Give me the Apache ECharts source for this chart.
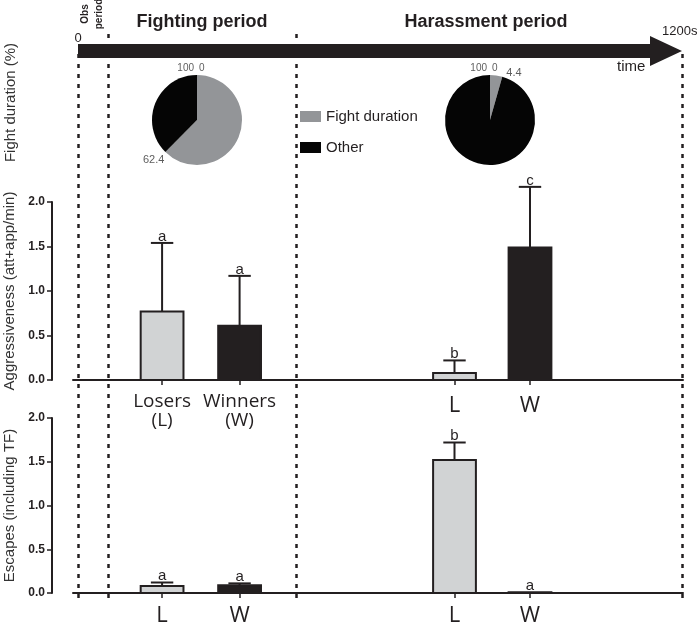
<!DOCTYPE html>
<html>
<head>
<meta charset="utf-8">
<script src="https://cdn.jsdelivr.net/npm/echarts@6/dist/echarts.min.js"></script>
<style>
html, body { margin: 0; padding: 0; background: #fff; }
#main { width: 697px; height: 629px; }
</style>
</head>
<body>
<div id="main"></div>
<script>
// ---- data ----
var periodEdges = [0, 60, 433, 1200];          // s : start, end obs, end fighting, end
var barPos = [167, 321, 748, 898];             // centre of each bar on the time axis (s)
var rowLabelsTop = ['Losers\n(L)', 'Winners\n(W)', 'L', 'W'];
var rowLabelsBottom = ['L', 'W', 'L', 'W'];
var aggrMean = [0.77, 0.61, 0.08, 1.49];
var aggrErr = [0.77, 0.56, 0.14, 0.68];
var aggrLetters = ['a', 'a', 'b', 'c'];
var escMean = [0.08, 0.09, 1.52, 0.01];
var escErr = [0.04, 0.02, 0.20, 0];
var escLetters = ['a', 'a', 'b', 'a'];
var fightPct = [62.4, 4.4];                    // % of time fighting, fighting / harassment

var INK = '#231f20';
var GREY_BAR = '#d1d3d4';
var GREY_PIE = '#939598';
var barWidth = 89;   // in seconds of the time axis

var myChart = echarts.init(document.getElementById('main'));

function barItems(mean, err) {
    var out = [];
    for (var i = 0; i < mean.length; i++) {
        out.push([barPos[i], mean[i], err[i], i % 2]);
    }
    return out;
}

// bars + error bars + letters
function makeRender(letters) {
    return function (params, api) {
        var x = api.value(0), v = api.value(1), e = api.value(2);
        var base = api.coord([x, 0]);
        var top = api.coord([x, v]);
        var errTop = api.coord([x, v + e]);
        var w = api.size([barWidth, 0])[0];
        var cap = w / 2;
        var children = [{
            type: 'rect',
            shape: {x: base[0] - w / 2 + 1, y: top[1], width: w - 2, height: base[1] - top[1]},
            style: {fill: api.value(3) === 0 ? GREY_BAR : INK, stroke: INK, lineWidth: 2}
        }];
        if (e > 0) {
            children.push({
                type: 'line',
                shape: {x1: base[0], y1: top[1], x2: base[0], y2: errTop[1]},
                style: {stroke: INK, lineWidth: 2}
            });
            children.push({
                type: 'line',
                shape: {x1: base[0] - cap / 2, y1: errTop[1], x2: base[0] + cap / 2, y2: errTop[1]},
                style: {stroke: INK, lineWidth: 2}
            });
        }
        children.push({
            type: 'text',
            x: base[0], y: errTop[1] + 1,
            style: {
                text: letters[params.dataIndex], fill: INK,
                fontFamily: 'Liberation Sans', fontSize: 15,
                align: 'center', verticalAlign: 'bottom', textAlign: 'center', textVerticalAlign: 'bottom'
            }
        });
        return {type: 'group', children: children};
    };
}

// two-line names use the small style, single letters the big one
function labelFor(list) {
    return function (val) {
        var i = barPos.indexOf(val);
        if (i < 0) return '';
        var parts = list[i].split('\n');
        if (parts.length > 1) {
            return parts.map(function (p) { return '{n|' + p + '}'; }).join('\n');
        }
        return '{b|' + parts[0] + '}';
    };
}

function rowXAxis(grid, labels, margin) {
    return {
        gridIndex: grid, type: 'value', min: -10, max: 1202,
        splitLine: {show: false},
        axisLine: {show: true, onZero: false, lineStyle: {color: INK, width: 2}},
        axisTick: {show: true, customValues: barPos, length: 5, lineStyle: {color: INK, width: 1.5}},
        axisLabel: {
            customValues: barPos, formatter: labelFor(labels), margin: margin, color: INK,
            rich: {
                n: {fontFamily: 'Open Sans', fontSize: 19, lineHeight: 19, color: INK},
                b: {fontFamily: 'Open Sans', fontSize: 22, lineHeight: 24, padding: [3, 0, 0, 0], color: INK}
            }
        }
    };
}

function rowYAxis(grid, name) {
    return {
        gridIndex: grid, type: 'value', min: 0, max: 2, interval: 0.5, offset: 21,
        name: name, nameLocation: 'middle', nameGap: 34,
        nameTextStyle: {color: '#333', fontFamily: 'Liberation Sans', fontSize: 15},
        splitLine: {show: false},
        axisLine: {show: true, onZero: false, lineStyle: {color: INK, width: 2}},
        axisTick: {show: true, length: 5, lineStyle: {color: INK, width: 1.5}},
        axisLabel: {
            color: INK, fontFamily: 'Liberation Sans', fontWeight: 'bold', fontSize: 12, margin: 7,
            formatter: function (v) { return v.toFixed(1); }
        }
    };
}

var dotted = {color: INK, width: 2.5, type: [4, 6]};

function pieData(p) {
    return [
        {name: 'Fight duration', value: p, itemStyle: {color: GREY_PIE}},
        {name: 'Other', value: 100 - p, itemStyle: {color: '#050505'}}
    ];
}

var smallLbl = {color: '#333', fontFamily: 'Liberation Sans', fontSize: 10};

function pieMarks(p, pos) {
    return [
        {value: [1, 0], name: '100', label: {position: 'top', distance: 2, align: 'right', offset: [-3, 0]}},
        {value: [1, 0], name: '0', label: {position: 'top', distance: 2, align: 'left', offset: [2, 0]}},
        {value: [1, p], name: String(p), label: pos}
    ];
}

var titleFont = {fontFamily: 'Liberation Sans', fontWeight: 'bold', fontSize: 18, fill: INK};

myChart.setOption({
    animation: false,
    grid: [
        {left: 78, right: 15, top: 33, bottom: 31, outerBoundsMode: 'none'},   // 0 time axis, long dotted lines
        {left: 78, right: 15, top: 51, bottom: 31, outerBoundsMode: 'none'},   // 1 arrow
        {left: 52, right: 15, top: 43, height: 119, outerBoundsMode: 'none'},  // 2 pie row name
        {left: 73, right: 14, top: 202, height: 178, outerBoundsMode: 'none'}, // 3 aggressiveness
        {left: 73, right: 14, top: 418, height: 175, outerBoundsMode: 'none'}  // 4 escapes
    ],
    xAxis: [
        {gridIndex: 0, type: 'value', min: 0, max: 1200, show: false},
        {gridIndex: 1, type: 'value', min: 0, max: 1200, show: false},
        {gridIndex: 2, type: 'value', min: 0, max: 1, show: false},
        rowXAxis(3, rowLabelsTop, 12),
        rowXAxis(4, rowLabelsBottom, 9.5)
    ],
    yAxis: [
        {gridIndex: 0, type: 'value', min: 0, max: 1, show: false},
        {gridIndex: 1, type: 'value', min: 0, max: 1, show: false},
        {
            gridIndex: 2, type: 'value', min: 0, max: 1,
            name: 'Fight duration (%)', nameLocation: 'middle', nameGap: 34,
            nameTextStyle: {color: '#333', fontFamily: 'Liberation Sans', fontSize: 15},
            axisLine: {show: false}, axisTick: {show: false}, axisLabel: {show: false}, splitLine: {show: false}
        },
        rowYAxis(3, 'Aggressiveness (att+app/min)'),
        rowYAxis(4, 'Escapes (including TF)')
    ],
    polar: [
        {center: [197, 120], radius: 45},
        {center: [490, 120], radius: 45}
    ],
    angleAxis: [
        {polarIndex: 0, min: 0, max: 100, startAngle: 90, clockwise: true, show: false},
        {polarIndex: 1, min: 0, max: 100, startAngle: 90, clockwise: true, show: false}
    ],
    radiusAxis: [
        {polarIndex: 0, min: 0, max: 1, show: false},
        {polarIndex: 1, min: 0, max: 1, show: false}
    ],
    legend: {
        orient: 'vertical', left: 300, top: 109, padding: 0, itemWidth: 21, itemHeight: 11, itemGap: 16,
        icon: 'rect', selectedMode: false,
        data: ['Fight duration', 'Other'],
        textStyle: {color: INK, fontFamily: 'Liberation Sans', fontSize: 15, lineHeight: 15}
    },
    graphic: [
        {type: 'text', x: 202, y: 22, style: Object.assign({text: 'Fighting period', align: 'center', verticalAlign: 'middle', textAlign: 'center', textVerticalAlign: 'middle'}, titleFont)},
        {type: 'text', x: 486, y: 22, style: Object.assign({text: 'Harassment period', align: 'center', verticalAlign: 'middle', textAlign: 'center', textVerticalAlign: 'middle'}, titleFont)},
        {type: 'text', x: 92, y: 14, rotation: Math.PI / 2, style: {
            text: 'Obs\nperiod', fontFamily: 'Liberation Sans', fontWeight: 'bold', fontSize: 10, lineHeight: 14, fill: INK,
            align: 'center', verticalAlign: 'middle', textAlign: 'center', textVerticalAlign: 'middle'}},
        {type: 'text', x: 78, y: 38, style: {text: '0', fontFamily: 'Liberation Sans', fontSize: 13, fill: INK,
            align: 'center', verticalAlign: 'middle', textAlign: 'center', textVerticalAlign: 'middle'}},
        {type: 'text', x: 662, y: 31, style: {text: '1200s', fontFamily: 'Liberation Sans', fontSize: 13, fill: INK,
            align: 'left', verticalAlign: 'middle', textAlign: 'left', textVerticalAlign: 'middle'}},
        {type: 'text', x: 617, y: 67, style: {text: 'time', fontFamily: 'Liberation Sans', fontSize: 15, fill: INK,
            align: 'left', verticalAlign: 'middle', textAlign: 'left', textVerticalAlign: 'middle'}}
    ],
    series: [
        { // period boundaries that run above the arrow
            type: 'line', xAxisIndex: 0, yAxisIndex: 0, data: [], z: 1,
            markLine: {silent: true, symbol: 'none', label: {show: false}, lineStyle: dotted,
                data: [{xAxis: periodEdges[1]}, {xAxis: periodEdges[2]}]}
        },
        { // start / end lines
            type: 'line', xAxisIndex: 1, yAxisIndex: 1, data: [], z: 1,
            markLine: {silent: true, symbol: 'none', label: {show: false}, lineStyle: dotted,
                data: [{xAxis: periodEdges[0]}, {xAxis: periodEdges[3]}]}
        },
        { // time arrow
            type: 'custom', xAxisIndex: 1, yAxisIndex: 1, z: 5, silent: true,
            data: [[periodEdges[0], periodEdges[3]]],
            renderItem: function (params, api) {
                var p0 = api.coord([api.value(0), 1]);
                var p1 = api.coord([api.value(1), 1]);
                var y = p0[1];
                return {
                    type: 'polygon',
                    shape: {points: [
                        [p0[0], y - 7], [p1[0] - 32, y - 7], [p1[0] - 32, y - 15], [p1[0], y],
                        [p1[0] - 32, y + 15], [p1[0] - 32, y + 7], [p0[0], y + 7]
                    ]},
                    style: {fill: INK}
                };
            }
        },
        {
            type: 'pie', center: [197, 120], radius: 45, startAngle: 90, silent: true,
            label: {show: false}, labelLine: {show: false}, data: pieData(fightPct[0])
        },
        {
            type: 'pie', center: [490, 120], radius: 45, startAngle: 90, silent: true,
            label: {show: false}, labelLine: {show: false}, data: pieData(fightPct[1])
        },
        {
            type: 'scatter', coordinateSystem: 'polar', polarIndex: 0, symbolSize: 0, silent: true,
            label: Object.assign({show: true, formatter: '{b}'}, smallLbl),
            data: pieMarks(fightPct[0], {position: 'bottom', distance: 2, align: 'right', offset: [-1, 0], fontSize: 11})
        },
        {
            type: 'scatter', coordinateSystem: 'polar', polarIndex: 1, symbolSize: 0, silent: true,
            label: Object.assign({show: true, formatter: '{b}'}, smallLbl),
            data: pieMarks(fightPct[1], {position: 'right', distance: 4, offset: [0, -4], fontSize: 11})
        },
        {
            type: 'custom', xAxisIndex: 3, yAxisIndex: 3, clip: false, z: 3,
            renderItem: makeRender(aggrLetters), data: barItems(aggrMean, aggrErr)
        },
        {
            type: 'custom', xAxisIndex: 4, yAxisIndex: 4, clip: false, z: 3,
            renderItem: makeRender(escLetters), data: barItems(escMean, escErr)
        }
    ]
});
</script>
</body>
</html>
